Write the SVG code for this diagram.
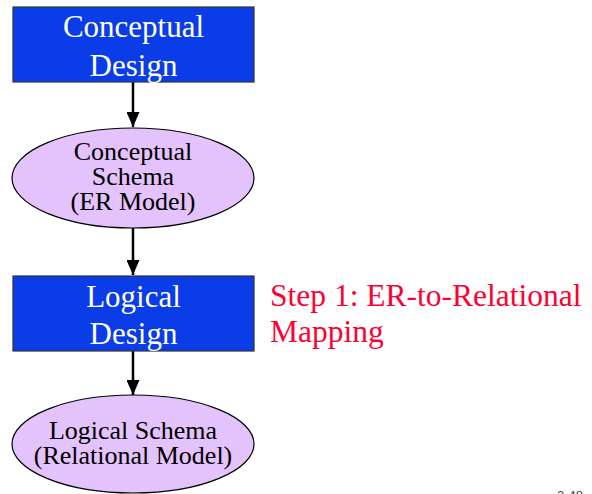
<svg xmlns="http://www.w3.org/2000/svg" width="592" height="494" viewBox="0 0 592 494">
<style>
.box{fill:#0A3CE8;stroke:#333;stroke-width:1.2}
.ell{fill:#E4C2FB;stroke:#000;stroke-width:1.2}
.bt{font-family:"Liberation Serif",serif;font-size:31px;fill:#fff;text-anchor:middle}
.et{font-family:"Liberation Serif",serif;font-size:26px;fill:#000;text-anchor:middle}
.st{font-family:"Liberation Serif",serif;font-size:31.5px;fill:#FF0033}
.ln{stroke:#000;stroke-width:2.5;fill:none}
</style>
<defs>
<marker id="ah" markerWidth="6" markerHeight="5.2" refX="6" refY="2.6" orient="auto" markerUnits="strokeWidth">
<path d="M0,0 L6,2.6 L0,5.2 Z" fill="#000"/>
</marker>
</defs>
<g id="connectors">
<line class="ln" x1="133" y1="82" x2="133" y2="127" marker-end="url(#ah)"/>
<line class="ln" x1="133" y1="228" x2="133" y2="275" marker-end="url(#ah)"/>
<line class="ln" x1="133" y1="351" x2="133" y2="395" marker-end="url(#ah)"/>
</g>
<g id="conceptual-design">
<rect class="box" x="13" y="7" width="241" height="75"/>
<text class="bt" x="133.5" y="37">Conceptual</text>
<text class="bt" x="133.5" y="76">Design</text>
</g>
<g id="conceptual-schema">
<ellipse class="ell" cx="133" cy="178" rx="121" ry="50"/>
<text class="et" x="133" y="160">Conceptual</text>
<text class="et" x="133" y="185">Schema</text>
<text class="et" x="133" y="210">(ER Model)</text>
</g>
<g id="logical-design">
<rect class="box" x="13" y="276" width="241" height="75"/>
<text class="bt" x="133.5" y="307">Logical</text>
<text class="bt" x="133.5" y="344">Design</text>
</g>
<g id="logical-schema">
<ellipse class="ell" cx="133" cy="444" rx="121" ry="49"/>
<text class="et" x="133" y="439">Logical Schema</text>
<text class="et" x="133" y="464">(Relational Model)</text>
</g>
<g id="step-label">
<text class="st" x="270" y="306">Step 1: ER-to-Relational</text>
<text class="st" x="270" y="342">Mapping</text>
</g>
<text x="557" y="500" font-family="Liberation Sans,sans-serif" font-size="13" fill="#444">3-48</text>
</svg>
